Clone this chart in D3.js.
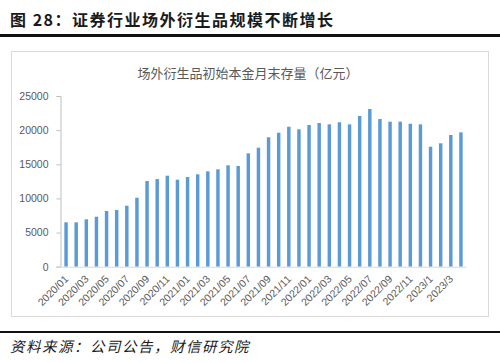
<!DOCTYPE html>
<html><head><meta charset="utf-8">
<script src="https://cdn.jsdelivr.net/npm/d3@7"></script>
<style>
html,body{margin:0;padding:0;background:#fff;}
svg{display:block;}
</style></head>
<body><svg id="c" width="500" height="363"></svg>
<script>
const categories = [
 "2020/01","2020/02","2020/03","2020/04","2020/05","2020/06","2020/07","2020/08","2020/09","2020/10","2020/11","2020/12",
 "2021/01","2021/02","2021/03","2021/04","2021/05","2021/06","2021/07","2021/08","2021/09","2021/10","2021/11","2021/12",
 "2022/01","2022/02","2022/03","2022/04","2022/05","2022/06","2022/07","2022/08","2022/09","2022/10","2022/11","2022/12",
 "2023/1","2023/2","2023/3","2023/4"];
const values = [
 6500,6500,6940,7320,8160,8300,8930,10100,12550,12840,13330,12740,
 13130,13530,13970,14260,14850,14750,16600,17430,18950,19620,20500,20120,
 20750,21040,20850,21150,20850,22070,23100,21630,21240,21240,20940,20850,
 17570,18070,19290,19680];
const yTicks = [0,5000,10000,15000,20000,25000];
const titleText = "图 28：证券行业场外衍生品规模不断增长";
const chartTitle = "场外衍生品初始本金月末存量（亿元）";
const sourceText = "资料来源：公司公告，财信研究院";

const svg = d3.select("#c");
const cjk = "'Noto Sans CJK SC', sans-serif";
const num = "'Liberation Sans', Arial, sans-serif";

// page title
svg.append("text").attr("x",10).attr("y",26)
  .attr("font-family",cjk).attr("font-weight","bold").attr("font-size",16)
  .attr("letter-spacing","1.5px").attr("fill","#1a1a1a").text(titleText);
svg.append("rect").attr("x",0).attr("y",34).attr("width",500).attr("height",3).attr("fill","#111");

// chart frame
svg.append("rect").attr("x",11.5).attr("y",51.5).attr("width",477).attr("height",265)
  .attr("fill","#fff").attr("stroke","#d9d9d9").attr("stroke-width",1);

svg.append("text").attr("x",248).attr("y",78).attr("text-anchor","middle")
  .attr("font-family",cjk).attr("font-size",13).attr("fill","#595959").text(chartTitle);

const x = d3.scaleBand().domain(categories).range([61,466]).paddingInner(0.66).paddingOuter(0.33);
const y = d3.scaleLinear().domain([0,25000]).range([266.7,96]);

svg.append("g").selectAll("rect").data(values).join("rect")
  .attr("x",(d,i)=>x(categories[i])).attr("width",x.bandwidth())
  .attr("y",d=>y(d)).attr("height",d=>y(0)-y(d)).attr("fill","#5b9bd5");

// y axis
const yAxis = svg.append("g").attr("transform","translate(60.5,0)")
  .call(d3.axisLeft(y).tickValues(yTicks).tickSize(4).tickPadding(8).tickFormat(d3.format("d")));
yAxis.select(".domain").attr("stroke","#bfbfbf");
yAxis.selectAll(".tick line").attr("stroke","#bfbfbf");
yAxis.selectAll("text").attr("font-family",num).attr("font-size",10.5).attr("fill","#595959");

// x axis
const xAxis = svg.append("g").attr("transform","translate(0,"+y(0)+")")
  .call(d3.axisBottom(x).tickSize(0).tickSizeOuter(0)
    .tickValues(categories.filter((c,i)=>i%2===0)));
xAxis.select(".domain").attr("stroke","#d9d9d9").attr("d","M57,0.5H466");
xAxis.selectAll("text").attr("font-family",num).attr("font-size",10.5).attr("fill","#595959")
  .attr("text-anchor","end").attr("dy",0).attr("y",0)
  .attr("transform","translate(1,11) rotate(-45)").attr("dominant-baseline","middle");

// bottom rule and source
svg.append("rect").attr("x",0).attr("y",331).attr("width",500).attr("height",2).attr("fill","#111");
svg.append("text").attr("x",10).attr("y",352)
  .attr("font-family",cjk).attr("font-style","italic").attr("font-size",14.5)
  .attr("letter-spacing","1.5px").attr("fill","#1a1a1a").text(sourceText);
</script></body></html>
